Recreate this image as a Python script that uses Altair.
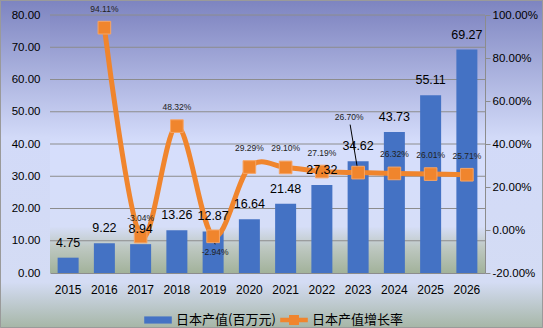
import altair as alt
import pandas as pd

years = ["2015", "2016", "2017", "2018", "2019", "2020", "2021", "2022", "2023", "2024", "2025", "2026"]
output_values = [4.75, 9.22, 8.94, 13.26, 12.87, 16.64, 21.48, 27.32, 34.62, 43.73, 55.11, 69.27]
growth_rates = [None, 94.11, -3.04, 48.32, -2.94, 29.29, 29.10, 27.19, 26.70, 26.32, 26.01, 25.71]
left_ticks = [0, 10, 20, 30, 40, 50, 60, 70, 80]
right_ticks = [-20, 0, 20, 40, 60, 80, 100]
S1 = "日本产值(百万元)"
S2 = "日本产值增长率"

BLUE = "#4472C4"
ORANGE = "#F0852D"
FONT = "Liberation Sans"
CJK = "Noto Sans CJK SC"

PAD_L, PAD_T, PAD_R, PAD_B = 50, 15, 58, 55
W, H = 435, 258

bars_df = pd.DataFrame({"year": years, "value": output_values, "series": S1,
                        "vlabel": [f"{v:.2f}" for v in output_values]})
rate_df = pd.DataFrame({"year": years[1:], "rate": growth_rates[1:],
                        "rlabel": [f"{r:.2f}%" for r in growth_rates[1:]]})
grid_df = pd.DataFrame({"tick": left_ticks[1:]})

X = lambda **kw: alt.X("year:N", sort=years, **kw)
xenc = X(title=None,
         scale=alt.Scale(paddingInner=0.42, paddingOuter=0.21),
         axis=alt.Axis(labelFont=FONT, labelFontSize=12, labelColor="#000000",
                       labelPadding=11, ticks=False, domain=True,
                       domainColor="#8c8c8c", labelAngle=0, zindex=1))

one = alt.Data(values=[{"a": 1}])

outer_grad = alt.LinearGradient(gradient="linear", x1=0, x2=0, y1=0, y2=1, stops=[
    alt.GradientStop(offset=0, color="#7d84c0"),
    alt.GradientStop(offset=0.42, color="#d2daf8"),
    alt.GradientStop(offset=0.86, color="#d4dcf4"),
    alt.GradientStop(offset=1, color="#a6b6a6"),
])
plot_grad = alt.LinearGradient(gradient="linear", x1=0, x2=0, y1=0, y2=1, stops=[
    alt.GradientStop(offset=0, color="#848ac4"),
    alt.GradientStop(offset=0.5, color="#d6defc"),
    alt.GradientStop(offset=0.82, color="#d6def8"),
    alt.GradientStop(offset=0.9, color="#bec8c2"),
    alt.GradientStop(offset=1, color="#a2b29a"),
])

outer_bg = alt.Chart(one).mark_rect(fill=outer_grad).encode(
    x=alt.value(-PAD_L), x2=alt.value(W + PAD_R),
    y=alt.value(-PAD_T), y2=alt.value(H + PAD_B))
border = alt.Chart(one).mark_rect(fill="transparent", stroke="#9a9a9a", strokeWidth=1).encode(
    x=alt.value(-PAD_L + 0.5), x2=alt.value(W + PAD_R - 0.5),
    y=alt.value(-PAD_T + 0.5), y2=alt.value(H + PAD_B - 0.5))
plot_bg = alt.Chart(one).mark_rect(fill=plot_grad).encode(
    x=alt.value(0), x2=alt.value("width"), y=alt.value(0), y2=alt.value("height"))

yleft_scale = alt.Scale(domain=[0, 80], nice=False, zero=True)
yright_scale = alt.Scale(domain=[-20, 100], nice=False, zero=False)

grid = alt.Chart(grid_df).mark_rule(color="#8c8c8c", strokeWidth=1).encode(
    y=alt.Y("tick:Q", scale=yleft_scale, axis=None),
    x=alt.value(0), x2=alt.value("width"))

bars = alt.Chart(bars_df).mark_bar(size=21).encode(
    x=xenc,
    y=alt.Y("value:Q", scale=yleft_scale, title=None,
            axis=alt.Axis(values=left_ticks, format=".2f", labelFont=FONT, labelFontSize=11.5,
                          labelColor="#000000", labelPadding=10, ticks=False, domain=False,
                          grid=False, zindex=1, orient="left")),
    color=alt.Color("series:N", scale=alt.Scale(domain=[S1, S2], range=[BLUE, ORANGE]),
                    legend=alt.Legend(
                        title=None, orient="none", legendX=94, legendY=291,
                        direction="horizontal", zindex=1,
                        symbolType=alt.ExprRef(
                            expr="datum.value == '" + S1 + "' ? 'M-1,-0.26L1,-0.26L1,0.26L-1,0.26Z' : "
                                 "'M-1,-0.17L-0.36,-0.17L-0.36,-0.37L0.36,-0.37L0.36,-0.17L1,-0.17L1,0.17L0.36,0.17L0.36,0.37L-0.36,0.37L-0.36,0.17L-1,0.17Z'"),
                        symbolSize=760, symbolStrokeWidth=0, symbolOpacity=1,
                        labelFont=CJK, labelFontSize=13, labelColor="#000000",
                        labelOffset=4, columnPadding=4)),
)
bar_labels = alt.Chart(bars_df).mark_text(font=FONT, fontSize=12.5, color="#000000",
                                          baseline="middle", dy=-15).encode(
    x=X(), y=alt.Y("value:Q", scale=yleft_scale, axis=None), text="vlabel:N")

yr_axis = alt.Axis(values=right_ticks, orient="right",
                   labelExpr="replace(format(datum.value, '.2f'), '\u2212', '-') + '%'",
                   labelFont=FONT, labelFontSize=11.5, labelColor="#000000",
                   labelPadding=2, ticks=True, tickSize=5, tickColor="#8c8c8c",
                   domain=True, domainColor="#8c8c8c", grid=False, zindex=1)
YR = lambda axis=None: alt.Y("rate:Q", scale=yright_scale, title=None, axis=axis)

line = alt.Chart(rate_df).mark_line(interpolate="cardinal", color=ORANGE, strokeWidth=5).encode(
    x=X(), y=YR(yr_axis))
pts = alt.Chart(rate_df).mark_point(shape="square", filled=True, fill=ORANGE, stroke="#F6A566",
                                    strokeWidth=1, size=160, opacity=1).encode(x=X(), y=YR())

lab_kw = dict(font=FONT, fontSize=8.5, color="#222222", baseline="middle")
rlab_main = alt.Chart(rate_df).transform_filter(
    "datum.year != '2019' && datum.year != '2023'").mark_text(dy=-19, **lab_kw).encode(
    x=X(), y=YR(), text="rlabel:N")
rlab_2019 = alt.Chart(rate_df).transform_filter("datum.year == '2019'").mark_text(
    dy=16, dx=2, **lab_kw).encode(x=X(), y=YR(), text="rlabel:N")
rlab_2023 = alt.Chart(rate_df).transform_filter("datum.year == '2023'").mark_text(
    dy=-56, dx=-9, **lab_kw).encode(x=X(), y=YR(), text="rlabel:N")
lead_2023 = alt.Chart(rate_df).transform_filter("datum.year == '2023'").mark_rule(
    color="#000000", strokeWidth=1, x2Offset=-8, y2Offset=-48).encode(
    x=X(bandPosition=0.5), x2=alt.X2("year", bandPosition=0.5),
    y=YR(), y2="rate:Q")
lead_2019 = alt.Chart(rate_df).transform_filter("datum.year == '2019'").mark_rule(
    color="#000000", strokeWidth=1, yOffset=2, x2Offset=2, y2Offset=8).encode(
    x=X(bandPosition=0.5), x2=alt.X2("year", bandPosition=0.5),
    y=YR(), y2="rate:Q")

chart = alt.layer(outer_bg, border, plot_bg, grid, bars, line, lead_2023, lead_2019, pts,
                  rlab_main, rlab_2019, rlab_2023, bar_labels).resolve_scale(y="independent").properties(
    width=W, height=H,
    padding={"left": PAD_L, "top": PAD_T, "right": PAD_R, "bottom": PAD_B},
    autosize=alt.AutoSizeParams(type="none"),
    background="#d2daf8",
).configure_view(stroke=None)

chart.save("out.html", embed_options={"renderer": "svg", "actions": False})
